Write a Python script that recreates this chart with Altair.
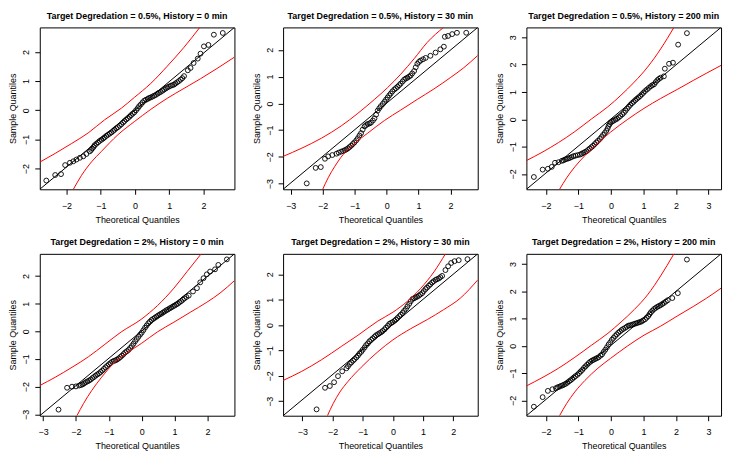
import altair as alt
import pandas as pd

FONT = "Liberation Sans"

titles = [
    "Target Degredation = 0.5%, History = 0 min",
    "Target Degredation = 0.5%, History = 30 min",
    "Target Degredation = 0.5%, History = 200 min",
    "Target Degredation = 2%, History = 0 min",
    "Target Degredation = 2%, History = 30 min",
    "Target Degredation = 2%, History = 200 min",
]

x_domains = [[-2.78, 2.90], [-3.24, 2.85], [-2.60, 3.39], [-3.10, 2.82], [-3.64, 2.81], [-2.60, 3.39]]
y_domains = [[-2.71, 2.84], [-3.21, 2.84], [-2.56, 3.36], [-3.05, 2.80], [-3.57, 2.81], [-2.56, 3.37]]
ticks = [[-2, -1, 0, 1, 2], [-3, -2, -1, 0, 1, 2], [-2, -1, 0, 1, 2, 3],
         [-3, -2, -1, 0, 1, 2], [-3, -2, -1, 0, 1, 2], [-2, -1, 0, 1, 2, 3]]

# ---- sample points (theoretical quantile, sample quantile) ----
tq1 = [-2.59, -2.33, -2.16, -2.04, -1.90, -1.80, -1.71, -1.61, -1.51, -1.42, -1.32, -1.25, -1.18, -1.08, -0.98,
       -0.89, -0.79, -0.69, -0.60, -0.50, -0.40, -0.31, -0.21, -0.12, -0.02, 0.08, 0.17, 0.27, 0.37, 0.46,
       0.56, 0.66, 0.75, 0.85, 0.94, 1.04, 1.14, 1.23, 1.33, 1.43, 1.54, 1.62, 1.71, 1.83, 1.91, 2.01, 2.14, 2.30, 2.56,
       -1.28, -1.21, -1.13, -1.03, -0.93, -0.84, -0.74, -0.64, -0.55, -0.45, -0.35, -0.26, -0.16, -0.07, 0.03,
       0.12, 0.22, 0.32, 0.41, 0.51, 0.61, 0.70, 0.80, 0.90, 0.99, 1.09, 1.18, 1.28, 1.38]
sq1 = [-2.41, -2.22, -2.19, -1.88, -1.80, -1.75, -1.69, -1.63, -1.58, -1.50, -1.41, -1.31, -1.20, -1.10, -1.01,
       -0.93, -0.84, -0.76, -0.67, -0.58, -0.48, -0.37, -0.27, -0.17, -0.07, 0.07, 0.20, 0.33, 0.39, 0.44,
       0.50, 0.57, 0.63, 0.71, 0.78, 0.84, 0.88, 0.96, 1.05, 1.17, 1.37, 1.45, 1.62, 1.77, 1.94, 2.19, 2.24, 2.59, 2.65,
       -1.36, -1.26, -1.15, -1.05, -0.97, -0.88, -0.80, -0.71, -0.62, -0.53, -0.42, -0.32, -0.22, -0.12, 0.00,
       0.14, 0.27, 0.36, 0.42, 0.47, 0.53, 0.60, 0.67, 0.75, 0.81, 0.86, 0.92, 1.00, 1.10]

tq2 = [-2.50, -2.22, -2.06, -1.93, -1.83, -1.70, -1.57, -1.42, -1.31, -1.21, -1.11, -1.01, -0.90, -0.80, -0.69,
       -0.59, -0.49, -0.38, -0.28, -0.18, -0.07, 0.03, 0.13, 0.24, 0.34, 0.44, 0.55, 0.65, 0.75, 0.86,
       0.96, 1.06, 1.22, 1.37, 1.53, 1.68, 1.79, 1.82, 1.92, 2.05, 2.20, 2.49,
       -1.50, -1.36, -1.26, -1.16, -1.06, -0.95, -0.85, -0.75, -0.64, -0.54, -0.43, -0.33, -0.23,
       -0.12, -0.02, 0.08, 0.18, 0.29, 0.39, 0.50, 0.60, 0.70, 0.80, 0.91, 1.01, 1.14]
sq2 = [-2.99, -2.41, -2.38, -2.07, -1.98, -1.93, -1.88, -1.80, -1.75, -1.68, -1.58, -1.46, -1.30, -1.11, -0.86,
       -0.77, -0.72, -0.56, -0.27, -0.10, 0.06, 0.22, 0.37, 0.52, 0.62, 0.74, 0.89, 0.96, 1.04, 1.21,
       1.48, 1.60, 1.70, 1.78, 1.90, 2.02, 2.12, 2.49, 2.52, 2.59, 2.64, 2.64,
       -1.84, -1.78, -1.72, -1.63, -1.52, -1.38, -1.20, -0.98, -0.81, -0.75, -0.64, -0.42, -0.18,
       -0.02, 0.14, 0.30, 0.45, 0.57, 0.68, 0.82, 0.93, 1.00, 1.12, 1.35, 1.55, 1.65]

tq3 = [-2.37, -2.10, -1.94, -1.82, -1.72, -1.61, -1.51, -1.41, -1.31, -1.21, -1.09, -0.95, -0.85, -0.75, -0.65,
       -0.55, -0.45, -0.34, -0.24, -0.14, -0.07, -0.01, 0.09, 0.19, 0.29, 0.40, 0.50, 0.60, 0.70, 0.80,
       0.90, 1.00, 1.11, 1.23, 1.33, 1.43, 1.53, 1.63, 1.66, 1.79, 1.91, 2.07, 2.34,
       -1.46, -1.36, -1.26, -1.15, -1.02, -0.90, -0.80, -0.70, -0.60, -0.50, -0.40, -0.29, -0.19, -0.10, -0.04,
       0.04, 0.14, 0.24, 0.35, 0.45, 0.55, 0.65, 0.75, 0.85, 0.95, 1.05, 1.17, 1.28, 1.38, 1.48]
sq3 = [-2.11, -1.84, -1.81, -1.74, -1.59, -1.57, -1.52, -1.47, -1.43, -1.38, -1.33, -1.29, -1.23, -1.17, -1.07,
       -0.97, -0.85, -0.72, -0.57, -0.42, -0.24, -0.12, -0.05, 0.02, 0.12, 0.24, 0.39, 0.53, 0.64, 0.75,
       0.85, 0.97, 1.09, 1.21, 1.28, 1.43, 1.52, 1.57, 1.85, 2.03, 2.07, 2.73, 3.15,
       -1.50, -1.45, -1.41, -1.35, -1.31, -1.26, -1.20, -1.12, -1.02, -0.91, -0.79, -0.65, -0.50, -0.33, -0.18,
       -0.08, -0.01, 0.07, 0.18, 0.31, 0.46, 0.59, 0.70, 0.80, 0.91, 1.03, 1.15, 1.25, 1.36, 1.48]

tq4 = [-2.53, -2.27, -2.12, -2.00, -1.90, -1.80, -1.70, -1.60, -1.50, -1.40, -1.30, -1.20, -1.10, -1.00, -0.90,
       -0.80, -0.70, -0.60, -0.50, -0.40, -0.30, -0.20, -0.10, 0.00, 0.10, 0.20, 0.30, 0.40, 0.50, 0.60,
       0.70, 0.80, 0.90, 1.00, 1.10, 1.20, 1.30, 1.43, 1.56, 1.68, 1.78, 1.88, 1.98, 2.08, 2.23, 2.33, 2.59,
       -1.85, -1.75, -1.65, -1.55, -1.45, -1.35, -1.25, -1.15, -1.05, -0.95, -0.85, -0.75, -0.65, -0.55, -0.45,
       -0.35, -0.25, -0.15, -0.05, 0.05, 0.15, 0.25, 0.35, 0.45, 0.55, 0.65, 0.75, 0.85, 0.95, 1.05, 1.15,
       1.25, 1.36]
sq4 = [-2.83, -2.04, -2.00, -1.99, -1.96, -1.92, -1.84, -1.78, -1.69, -1.60, -1.52, -1.42, -1.30, -1.19, -1.10,
       -1.05, -0.98, -0.88, -0.76, -0.67, -0.53, -0.36, -0.20, -0.05, 0.13, 0.29, 0.41, 0.49, 0.57, 0.64,
       0.72, 0.79, 0.86, 0.93, 1.00, 1.09, 1.19, 1.29, 1.44, 1.56, 1.77, 1.92, 2.06, 2.16, 2.24, 2.40, 2.60,
       -1.94, -1.88, -1.81, -1.74, -1.65, -1.56, -1.47, -1.36, -1.25, -1.15, -1.07, -1.02, -0.93, -0.82, -0.72,
       -0.60, -0.45, -0.28, -0.12, 0.04, 0.21, 0.35, 0.45, 0.53, 0.61, 0.68, 0.76, 0.83, 0.90, 0.97, 1.05,
       1.14, 1.24]

tq5 = [-2.53, -2.25, -2.09, -1.95, -1.82, -1.68, -1.54, -1.43, -1.32, -1.21, -1.11, -1.00, -0.89, -0.78, -0.67,
       -0.56, -0.45, -0.34, -0.23, -0.12, -0.01, 0.10, 0.21, 0.32, 0.43, 0.54, 0.65, 0.75, 0.86, 0.97,
       1.08, 1.19, 1.30, 1.41, 1.52, 1.63, 1.74, 1.83, 1.93, 2.04, 2.18, 2.47,
       -1.49, -1.38, -1.27, -1.16, -1.05, -0.94, -0.83, -0.72, -0.61, -0.50, -0.39, -0.28, -0.17, -0.06, 0.05,
       0.15, 0.26, 0.37, 0.48, 0.59, 0.70, 0.80, 0.91, 1.02, 1.13, 1.24, 1.35, 1.46, 1.57]
sq5 = [-3.32, -2.47, -2.40, -2.25, -2.01, -1.82, -1.70, -1.53, -1.40, -1.27, -1.12, -0.97, -0.79, -0.64, -0.52,
       -0.40, -0.32, -0.23, -0.10, 0.05, 0.12, 0.22, 0.35, 0.48, 0.64, 0.84, 1.03, 1.09, 1.16, 1.26,
       1.42, 1.55, 1.68, 1.78, 1.84, 1.94, 2.17, 2.32, 2.45, 2.52, 2.56, 2.60,
       -1.62, -1.47, -1.34, -1.20, -1.05, -0.88, -0.72, -0.58, -0.46, -0.36, -0.28, -0.17, -0.03, 0.09, 0.17,
       0.28, 0.41, 0.56, 0.74, 0.94, 1.06, 1.12, 1.21, 1.34, 1.48, 1.61, 1.73, 1.81, 1.89]

tq6 = [-2.37, -2.10, -1.94, -1.80, -1.69, -1.59, -1.49, -1.39, -1.29, -1.19, -1.09, -0.98, -0.88, -0.78, -0.68,
       -0.58, -0.48, -0.38, -0.27, -0.17, -0.07, 0.03, 0.13, 0.23, 0.33, 0.44, 0.54, 0.64, 0.74, 0.84,
       0.94, 1.05, 1.15, 1.23, 1.33, 1.43, 1.53, 1.63, 1.75, 1.89, 2.06, 2.34,
       -1.64, -1.54, -1.44, -1.34, -1.24, -1.14, -1.03, -0.93, -0.83, -0.73, -0.63, -0.53, -0.43, -0.32, -0.22,
       -0.12, -0.02, 0.08, 0.18, 0.28, 0.38, 0.49, 0.59, 0.69, 0.79, 0.89, 0.99, 1.10, 1.19, 1.28, 1.38,
       1.48, 1.58, 1.69]
sq6 = [-2.23, -1.88, -1.65, -1.59, -1.55, -1.50, -1.45, -1.39, -1.30, -1.21, -1.11, -1.00, -0.88, -0.75, -0.63,
       -0.54, -0.48, -0.42, -0.31, -0.14, 0.05, 0.22, 0.36, 0.48, 0.58, 0.66, 0.74, 0.77, 0.81, 0.85,
       0.89, 0.97, 1.09, 1.23, 1.35, 1.43, 1.49, 1.57, 1.67, 1.75, 1.93, 3.16,
       -1.52, -1.47, -1.42, -1.35, -1.26, -1.16, -1.06, -0.94, -0.81, -0.69, -0.58, -0.51, -0.45, -0.36, -0.22,
       -0.05, 0.13, 0.29, 0.42, 0.53, 0.62, 0.70, 0.75, 0.79, 0.83, 0.87, 0.93, 1.03, 1.16, 1.29, 1.39,
       1.46, 1.53, 1.62]

# ---- fitted reference lines (two end points each) ----
fit_x = [[-2.78, 2.90], [-3.24, 2.85], [-2.60, 3.39], [-3.10, 2.82], [-3.64, 2.81], [-2.60, 3.39]]
fit_y = [[-2.71, 2.84], [-3.21, 2.84], [-2.56, 3.36], [-3.05, 2.80], [-3.57, 2.81], [-2.56, 3.37]]

# ---- confidence envelopes ----
up_x = [
    [-2.78, -2.33, -1.85, -1.37, -0.89, -0.40, -0.02, 0.46, 0.94, 1.43, 1.89],
    [-3.24, -2.65, -2.04, -1.42, -0.90, -0.38, 0.03, 0.44, 0.86, 1.27, 1.78],
    [-2.60, -2.12, -1.61, -1.11, -0.60, -0.09, 0.31, 0.72, 1.13, 1.53, 1.94],
    [-3.10, -2.63, -2.12, -1.62, -1.12, -0.62, -0.02, 0.48, 0.98, 1.38, 1.81],
    [-3.64, -3.02, -2.36, -1.71, -1.16, -0.50, 0.00, 0.48, 0.92, 1.36, 1.74],
    [-2.60, -2.12, -1.61, -1.11, -0.60, -0.09, 0.31, 0.72, 1.13, 1.53, 1.94],
]
up_y = [
    [-1.78, -1.48, -1.14, -0.78, -0.33, 0.07, 0.44, 0.92, 1.51, 2.16, 2.84],
    [-1.98, -1.67, -1.30, -0.84, -0.37, 0.15, 0.59, 1.09, 1.67, 2.28, 2.84],
    [-1.51, -1.21, -0.85, -0.45, 0.01, 0.46, 0.88, 1.36, 1.91, 2.57, 3.36],
    [-1.96, -1.66, -1.30, -0.92, -0.47, -0.02, 0.43, 0.93, 1.56, 2.16, 2.80],
    [-2.18, -1.82, -1.36, -0.84, -0.40, 0.16, 0.51, 0.94, 1.45, 2.10, 2.81],
    [-1.47, -1.17, -0.82, -0.42, 0.02, 0.46, 0.87, 1.33, 1.87, 2.56, 3.37],
]
lo_x = [
    [-1.80, -1.56, -1.27, -0.98, -0.50, -0.02, 0.46, 0.94, 1.43, 1.91, 2.39, 2.90],
    [-2.00, -1.83, -1.62, -1.36, -1.05, -0.59, -0.07, 0.44, 0.96, 1.48, 1.99, 2.41, 2.85],
    [-1.58, -1.36, -1.11, -0.80, -0.40, -0.01, 0.52, 1.02, 1.53, 2.04, 2.55, 2.95, 3.39],
    [-1.97, -1.77, -1.52, -1.22, -0.82, -0.42, 0.00, 0.48, 0.98, 1.48, 1.98, 2.38, 2.82],
    [-2.17, -1.98, -1.76, -1.49, -1.05, -0.50, 0.00, 0.59, 1.14, 1.68, 2.23, 2.81],
    [-1.58, -1.36, -1.11, -0.80, -0.40, -0.01, 0.52, 1.02, 1.53, 2.04, 2.55, 2.95, 3.39],
]
lo_y = [
    [-2.71, -2.23, -1.77, -1.41, -0.84, -0.39, 0.03, 0.41, 0.75, 1.08, 1.43, 1.82],
    [-3.21, -2.78, -2.35, -1.91, -1.54, -1.11, -0.64, -0.25, 0.15, 0.54, 0.96, 1.33, 1.79],
    [-2.56, -2.14, -1.74, -1.33, -0.87, -0.47, 0.00, 0.40, 0.76, 1.09, 1.43, 1.69, 1.97],
    [-3.05, -2.61, -2.14, -1.66, -1.12, -0.76, -0.43, -0.02, 0.33, 0.69, 1.05, 1.38, 1.83],
    [-3.57, -3.09, -2.64, -2.22, -1.66, -1.05, -0.58, -0.14, 0.22, 0.61, 1.06, 1.78],
    [-2.56, -2.11, -1.69, -1.27, -0.82, -0.46, 0.00, 0.39, 0.72, 1.09, 1.45, 1.75, 2.11],
]

tq = [tq1, tq2, tq3, tq4, tq5, tq6]
sq = [sq1, sq2, sq3, sq4, sq5, sq6]

W, H = 196, 163


def panel(i):
    pts = pd.DataFrame({"tq": tq[i], "sq": sq[i]})
    env = pd.DataFrame({
        "tq": up_x[i] + lo_x[i],
        "sq": up_y[i] + lo_y[i],
        "curve": ["upper"] * len(up_x[i]) + ["lower"] * len(lo_x[i]),
    })
    fit = pd.DataFrame({"tq": fit_x[i], "sq": fit_y[i]})

    xs = alt.Scale(domain=x_domains[i], nice=False, zero=False)
    ys = alt.Scale(domain=y_domains[i], nice=False, zero=False)
    common = dict(grid=False, domain=False, labelFont=FONT, labelFontSize=9, labelColor="black",
                  titleFont=FONT, titleFontSize=9, titleFontWeight="normal", titleColor="black",
                  tickColor="black", tickSize=5, tickWidth=1, labelOverlap=False, labelFlush=False,
                  format="d")
    xax = alt.Axis(values=ticks[i], title="Theoretical Quantiles",
                   labelBaseline="alphabetic", labelPadding=14,
                   titleX=W / 2, titleY=33.3, titleBaseline="alphabetic", titleAlign="center", **common)
    yax = alt.Axis(values=ticks[i], title="Sample Quantiles",
                   labelAngle=-90, labelAlign="center", labelBaseline="alphabetic", labelPadding=6,
                   titleX=-24, titleY=H / 2, titleAngle=-90, titleBaseline="alphabetic",
                   titleAlign="center", **common)
    X = alt.X("tq:Q", scale=xs, axis=xax)
    Y = alt.Y("sq:Q", scale=ys, axis=yax)

    points = alt.Chart(pts).mark_point(shape="circle", filled=False, color="black",
                                       size=24, strokeWidth=0.9, opacity=1).encode(x=X, y=Y)
    line = alt.Chart(fit).mark_line(color="black", strokeWidth=1, clip=True).encode(x=X, y=Y)
    envelope = alt.Chart(env).mark_line(color="#FF0000", strokeWidth=1, clip=True,
                                        interpolate="monotone").encode(x=X, y=Y, detail="curve:N")
    return alt.layer(points, line, envelope).properties(
        width=W, height=H,
        title=alt.TitleParams(titles[i], frame="group", anchor="middle", font=FONT, fontSize=9,
                              fontWeight="bold", color="black", baseline="alphabetic", offset=-0.5),
    )


chart = alt.concat(*[panel(i) for i in range(6)], columns=3,
                   spacing={"row": 65, "column": 49}).properties(
    bounds="flush",
    padding={"left": 0, "top": 2, "right": 5, "bottom": 0},
    background="white",
).configure_view(
    stroke="black", strokeWidth=1
)

chart.save("out.html", embed_options={"renderer": "svg", "actions": False})
